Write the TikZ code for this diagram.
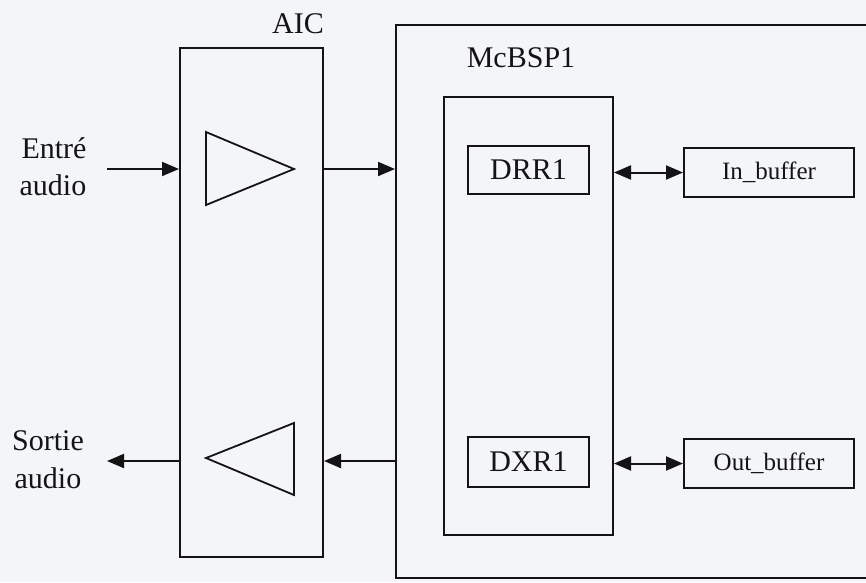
\documentclass[tikz,border=0pt]{standalone}
\usepackage{fontspec}
\setmainfont{Liberation Serif}
\usetikzlibrary{arrows.meta}
\definecolor{bgc}{RGB}{244,245,248}
\definecolor{ink}{RGB}{20,20,20}
\tikzset{
  box/.style={draw=ink, line width=2pt, inner sep=0pt, rectangle},
  lbl/.style={font=\fontsize{30}{37}\selectfont, text=ink, inner sep=0pt},
  smalllbl/.style={font=\fontsize{25}{30}\selectfont, text=ink, inner sep=0pt},
  tip/.tip={Triangle[length=17pt,width=14pt]},
  arr/.style={draw=ink, line width=2pt, -tip},
  darr/.style={draw=ink, line width=2pt, tip-tip},
  amp/.style={draw=ink, line width=1.8pt, line join=miter}
}
\begin{document}
\begin{tikzpicture}[x=1pt,y=-1pt]
\fill[bgc] (0,0) rectangle (866,582);
\useasboundingbox (0,0) rectangle (866,582);

% boxes
\node[box, minimum width=143pt, minimum height=509pt] (aic) at (251.5,302.5) {};
\node[box, minimum width=484pt, minimum height=553pt] (mcbsp) at (638,301.5) {};
\node[box, minimum width=169pt, minimum height=438pt] (inner) at (528.5,316) {};
\node[box, minimum width=121pt, minimum height=48pt, lbl] (drr) at (528.5,170) {DRR1};
\node[box, minimum width=170pt, minimum height=49pt, smalllbl] (inbuf) at (769,172.5) {In\_buffer};
\node[box, minimum width=121pt, minimum height=50pt, lbl] (dxr) at (528.5,462) {DXR1};
\node[box, minimum width=170pt, minimum height=49pt, smalllbl] (outbuf) at (769,463.5) {Out\_buffer};

% titles
\node[lbl, anchor=base] (aiclbl) at (298,33) {AIC};
\node[lbl, anchor=base] (mcbsplbl) at (521,67) {McBSP1};
\node[lbl, anchor=base] (entre) at (54,158) {Entré};
\node[lbl, anchor=base] (entreb) at (53,195) {audio};
\node[lbl, anchor=base] (sortie) at (48,450) {Sortie};
\node[lbl, anchor=base] (sortieb) at (48,488) {audio};

% amplifiers
\draw[amp] (206,132) -- (294,169) -- (206,205) -- cycle;
\draw[amp] (294,423) -- (206,458) -- (294,495) -- cycle;

% connectors
\coordinate (inpt) at (107,169);
\coordinate (outpt) at (107,461);
\draw[arr] (inpt) -- (inpt -| aic.west);
\draw[arr] (aic.east |- inpt) -- (mcbsp.west |- inpt);
\draw[arr] (mcbsp.west |- outpt) -- (aic.east |- outpt);
\draw[arr] (aic.west |- outpt) -- (outpt);
\draw[darr] (inner.east |- inbuf.west) -- (inbuf.west);
\draw[darr] (inner.east |- outbuf.west) -- (outbuf.west);
\end{tikzpicture}
\end{document}
